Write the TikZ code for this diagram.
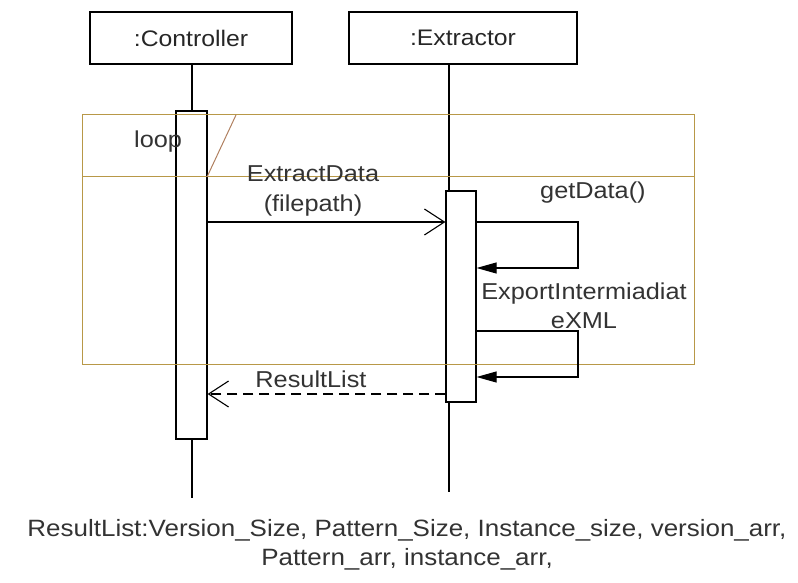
\documentclass[tikz,border=0pt]{standalone}
\usepackage{fontspec}
\setmainfont{Liberation Sans}[FakeStretch=1.1]
\usetikzlibrary{arrows.meta}
\definecolor{framecol}{RGB}{184,152,72}
\definecolor{slashcol}{RGB}{176,128,96}
\tikzset{
  objbox/.style={draw,line width=1.2pt,minimum width=202pt,minimum height=52pt,inner sep=0pt,font=\fontsize{22.5}{26}\selectfont,text=black!85},
  actbox/.style={draw,fill=white,line width=1.2pt,inner sep=0pt},
  lifeline/.style={line width=1.2pt},
  msg/.style={line width=1.1pt,-{Straight Barb[length=20pt,width=26pt,line width=1.1pt]}},
  selfmsg/.style={line width=1.1pt,-{Triangle[length=20pt,width=11pt]}},
  retmsg/.style={line width=1.1pt,dash pattern=on 10pt off 6pt,-{Straight Barb[length=20pt,width=26pt,line width=1.1pt]}},
  lbl/.style={font=\fontsize{23}{29.5}\selectfont,align=center,text=black!80,inner sep=0pt},
  loopframe/.style={draw=framecol,line width=1pt}
}
\begin{document}
\begin{tikzpicture}[x=1pt,y=-1pt]
\useasboundingbox (0,0) rectangle (798,583);
% object heads
\node[objbox] (ctrl) at (191,38) {:Controller};
\node[objbox,minimum width=228pt] (extr) at (463,38) {:Extractor};
% lifelines
\coordinate (ctrlEnd) at (192,498);
\coordinate (extrEnd) at (449,492);
\draw[lifeline] (ctrl.south -| ctrlEnd) -- (ctrlEnd);
\draw[lifeline] (extr.south -| extrEnd) -- (extrEnd);
% activation bars
\node[actbox,minimum width=31pt,minimum height=328pt] (actC) at (191.5,275) {};
\node[actbox,minimum width=30pt,minimum height=211pt] (actE) at (461,296.5) {};
% loop combined fragment
\coordinate (fTL) at (82,115);
\coordinate (fBR) at (694,364);
\draw[loopframe] (fTL) rectangle (fBR);
\draw[loopframe] (82,177) -- (694,177);
\draw[draw=slashcol,line width=1pt] (236,115) -- (207,177);
\node[lbl,anchor=west] (loopLbl) at (134,142) {loop};
% ExtractData(filepath)
\coordinate (m1a) at (actC.east |- 0,222);
\coordinate (m1b) at (actE.west |- 0,222);
\draw[msg] (m1a) -- (m1b);
\node[lbl] (m1lbl) at (313,191) {ExtractData\\(filepath)};
% getData() self call
\coordinate (s1a) at (actE.east |- 0,222);
\coordinate (s1b) at (actE.east |- 0,268);
\draw[selfmsg] (s1a) -- (578,222) -- (578,268) -- (s1b);
\node[lbl,anchor=west] (s1lbl) at (540,193) {getData()};
% ExportIntermiadiateXML self call
\coordinate (s2a) at (actE.east |- 0,331);
\coordinate (s2b) at (actE.east |- 0,377);
\draw[selfmsg] (s2a) -- (578,331) -- (578,377) -- (s2b);
\node[lbl] (s2lbl) at (584,306) {ExportIntermiadiat\\eXML};
% ResultList return
\coordinate (r1a) at (actE.west |- 0,394);
\coordinate (r1b) at (actC.east |- 0,394);
\draw[retmsg] (r1a) -- (r1b);
\node[lbl] (r1lbl) at (311,379) {ResultList};
% note below the diagram
\node[lbl,font=\fontsize{23.6}{29.5}\selectfont] (note) at (407,545) {ResultList:Version\_Size, Pattern\_Size, Instance\_size, version\_arr,\\Pattern\_arr, instance\_arr,};
\end{tikzpicture}
\end{document}
